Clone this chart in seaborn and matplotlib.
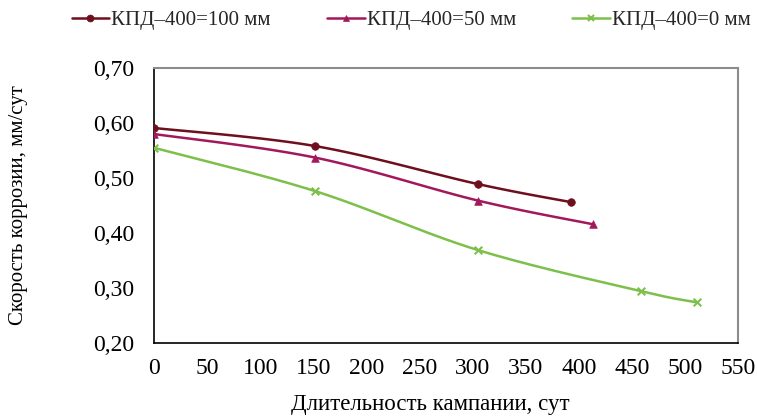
import numpy as np
import pandas as pd
import matplotlib
matplotlib.use("Agg")
import matplotlib.pyplot as plt
from matplotlib.lines import Line2D
import seaborn as sns

# ---- data ----
labels = ["КПД–400=100 мм", "КПД–400=50 мм", "КПД–400=0 мм"]
days_100 = [0, 152, 305, 393]
rate_100 = [0.591, 0.558, 0.489, 0.456]
days_50 = [0, 152, 305, 413]
rate_50 = [0.580, 0.537, 0.459, 0.416]
days_0 = [0, 152, 305, 459, 511]
rate_0 = [0.555, 0.476, 0.369, 0.294, 0.274]
x_ticks = [0, 50, 100, 150, 200, 250, 300, 350, 400, 450, 500, 550]
y_ticks = [0.20, 0.30, 0.40, 0.50, 0.60, 0.70]

colors = ["#6E0F1E", "#A2195B", "#7CC04B"]
markers = ["o", "^", "x"]

sns.set_theme(style="white")
plt.rcParams["font.family"] = ["Liberation Serif", "DejaVu Serif"]

fig = plt.figure(figsize=(7.57, 4.17), dpi=100)
ax = fig.add_axes([154 / 757, 1 - 343 / 417, (738 - 154) / 757, (343 - 68) / 417])

XR, YR = 550.0, 0.5  # axis ranges used for smoothing in display-like space


def smooth(xs, ys, n=40):
    # Catmull-Rom (Excel-like smoothed line) in normalized coordinates
    px = np.array(xs, float) / XR
    py = np.array(ys, float) / YR
    P = np.column_stack([px, py])
    P = np.vstack([P[:1], P, P[-1:]])
    out = []
    for i in range(1, len(P) - 2):
        p0, p1, p2, p3 = P[i - 1], P[i], P[i + 1], P[i + 2]
        c1 = p1 + (p2 - p0) / 6
        c2 = p2 - (p3 - p1) / 6
        t = np.linspace(0, 1, n)[:, None]
        seg = ((1 - t) ** 3) * p1 + 3 * ((1 - t) ** 2) * t * c1 + 3 * (1 - t) * t ** 2 * c2 + t ** 3 * p2
        out.append(seg if i == 1 else seg[1:])
    S = np.vstack(out)
    return S[:, 0] * XR, S[:, 1] * YR


series = [(days_100, rate_100), (days_50, rate_50), (days_0, rate_0)]
handles = []
for (xs, ys), lab, c, m in zip(series, labels, colors, markers):
    sx, sy = smooth(xs, ys)
    df = pd.DataFrame({"x": sx, "y": sy})
    sns.lineplot(data=df, x="x", y="y", sort=False, color=c, linewidth=1.8, ax=ax)
    dfp = pd.DataFrame({"x": xs, "y": ys})
    if m == "x":
        sns.scatterplot(data=dfp, x="x", y="y", marker="x", color=c, s=30, linewidth=1.5, ax=ax, zorder=5)
    else:
        sns.scatterplot(data=dfp, x="x", y="y", marker=m, color=c, s=30, edgecolor=c, linewidth=0.5, ax=ax, zorder=5)
    handles.append(Line2D([0], [0], color=c, lw=1.8, marker=m, markersize=5,
                          markeredgewidth=1.5 if m == "x" else 0.5, markeredgecolor=c, markerfacecolor=c))

ax.set_xlim(0, 550)
ax.set_ylim(0.20, 0.70)
ax.set_xticks(x_ticks)
ax.set_yticks(y_ticks)
ax.set_xticklabels([str(v) for v in x_ticks])
ax.set_yticklabels([f"{v:.2f}".replace(".", ",") for v in y_ticks])
ax.tick_params(axis="both", direction="out", length=5, width=1, colors="black", labelsize=17)
ax.tick_params(axis="y", pad=9)
ax.tick_params(axis="x", pad=6)
for s in ["left", "bottom"]:
    ax.spines[s].set_color("black")
    ax.spines[s].set_linewidth(1.2)
for s in ["top", "right"]:
    ax.spines[s].set_color("#8C8C8C")
    ax.spines[s].set_linewidth(1.5)

ax.set_xlabel("Длительность кампании, сут", fontsize=16.5, color="black")
ax.set_ylabel("Скорость коррозии, мм/сут", fontsize=15, color="black")
ax.xaxis.set_label_coords(0.473, -0.185)
ax.yaxis.set_label_coords(-0.215, 0.5)

fig.legend(handles, labels, loc="center", bbox_to_anchor=(0.543, 1 - 20 / 417), ncol=3,
           frameon=False, fontsize=15, handlelength=1.8, handletextpad=0.1, columnspacing=2.7)

fig.savefig("out.png", dpi=100)
